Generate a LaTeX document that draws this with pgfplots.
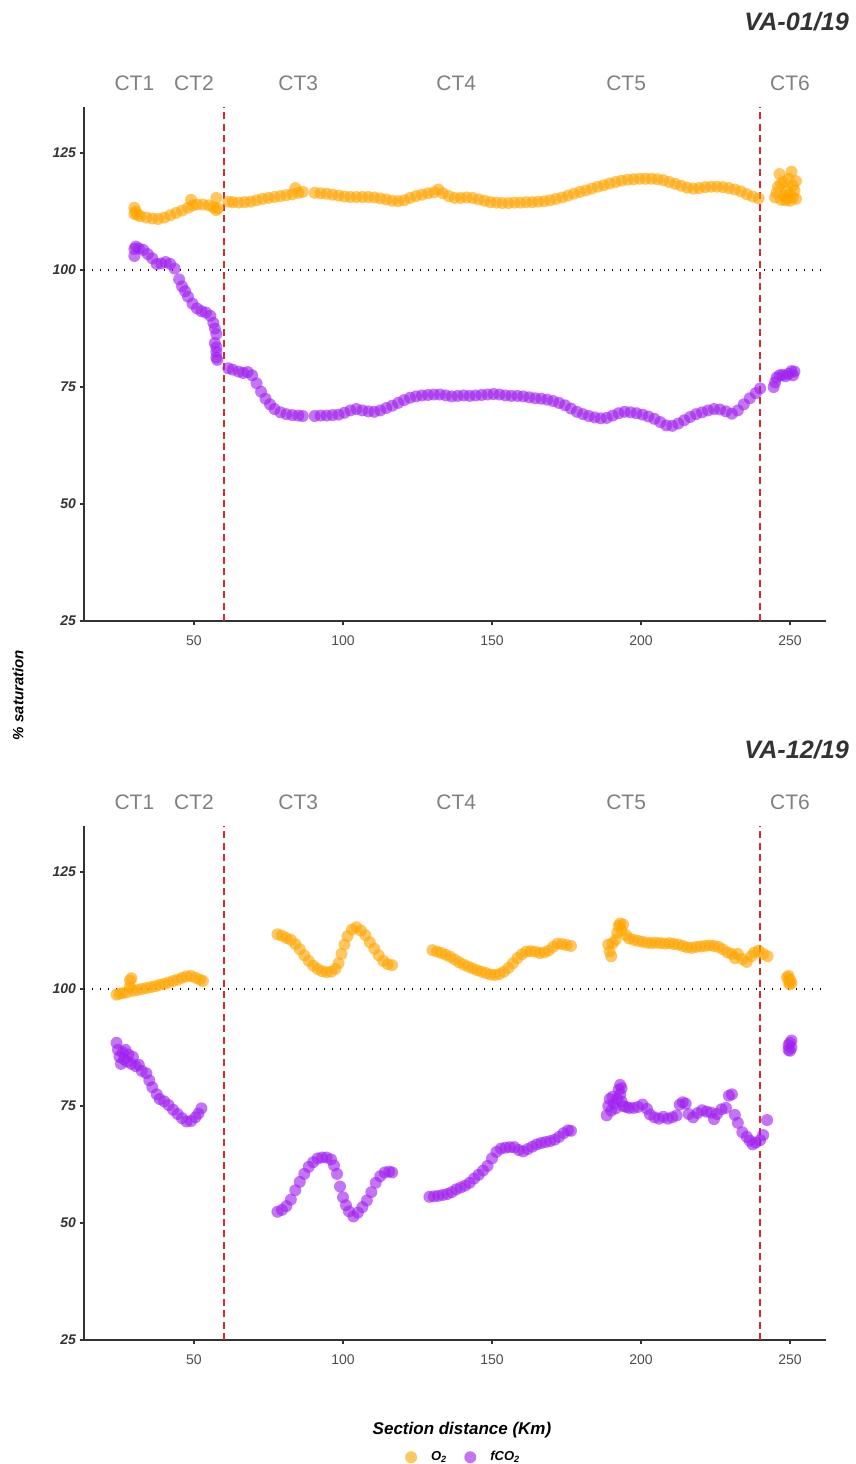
\documentclass[border=0pt]{standalone}
\usepackage{pgfplots}
\pgfplotsset{compat=1.18}
\usepackage{fontspec}
\setmainfont{Liberation Sans}
\definecolor{oo}{HTML}{FFA500}
\definecolor{pp}{HTML}{A020F0}
\definecolor{axgray}{HTML}{333333}
\definecolor{tkgray}{HTML}{4D4D4D}
\definecolor{ctgray}{HTML}{808080}
\definecolor{redl}{HTML}{D92B2B}

% ---------------- Panel 1 (VA-01/19) ----------------
\pgfplotstableread{
x y
30 112.0
30 113.3
30.5 112.5
31 111.8
32 111.5
34 111.2
36 111.0
38 110.9
40 111.2
42 111.7
44 112.2
46 112.7
48 113.3
49.5 113.8
49 115.0
51 114.0
53 114.0
55 113.8
56.5 113.4
57.5 112.8
57.5 115.4
58 113.2
61.5 114.6
63 114.5
65 114.4
67 114.5
69 114.6
71 114.9
73 115.2
75 115.4
77 115.6
79 115.8
81 116.0
83 116.2
84 117.5
85 116.5
86.5 116.7
90.5 116.5
92.5 116.4
94.5 116.3
96.5 116.1
98.5 115.9
100.5 115.7
102.5 115.6
104.5 115.6
106.5 115.6
108.5 115.6
110.5 115.5
112.5 115.3
114.5 115.1
116.5 114.8
118.5 114.7
120.5 114.9
122.5 115.4
124.5 115.8
126.5 116.1
128.5 116.4
130.5 116.6
132 117.2
133.5 116.4
135.5 115.8
137.5 115.4
139.5 115.4
141.5 115.5
143.5 115.4
145.5 115.1
147.5 114.8
149.5 114.5
151.5 114.4
153.5 114.3
155.5 114.3
157.5 114.4
159.5 114.4
161.5 114.5
163.5 114.5
165.5 114.6
167.5 114.7
169.5 114.9
171.5 115.2
173.5 115.5
175.5 115.9
177.5 116.3
179.5 116.7
181.5 117.0
183.5 117.4
185.5 117.8
187.5 118.1
189.5 118.5
191.5 118.8
193.5 119.1
195.5 119.3
197.5 119.4
199.5 119.5
201.5 119.5
203.5 119.5
205.5 119.4
207.5 119.2
209.5 118.8
211.5 118.4
213.5 118.0
215.5 117.6
217.5 117.4
219.5 117.5
221.5 117.7
223.5 117.8
225.5 117.8
227.5 117.7
229.5 117.5
231.5 117.2
233.5 116.8
235.5 116.2
237.5 115.7
239.5 115.3
245 115.5
245.5 116.5
246 117.8
246.5 120.5
247 118.5
247 115.0
248 116.0
248 118.8
249 117.0
249 115.3
249.5 119.5
250 116.2
250.5 121.0
251 118.0
251 115.5
251.5 117.0
252 115.2
252 119.0
248.5 114.9
250 114.8
}\oTop

\pgfplotstableread{
x y
30 103.0
30 104.5
30.5 105.0
31.5 104.6
33 104.3
34.5 103.4
36 102.5
37.5 101.3
39 101.4
40.5 101.7
42 101.3
43.5 100.3
45 98.0
46 96.5
47 95.5
48 94.3
49.5 92.8
51 91.8
52.5 91.2
54 90.9
55.5 90.2
56.5 88.7
57 87.5
57.5 86.3
57 84.4
57.5 83.5
57.5 82.5
57.5 81.3
57.8 80.8
61.5 79.0
63 78.7
65 78.3
66.5 78.0
68 78.2
69.5 77.5
71 75.8
72.5 74.0
74 72.5
75.5 71.3
77 70.3
79 69.6
81 69.2
83 69.0
85 68.9
86.5 68.8
90.5 68.8
92.5 68.9
94.5 68.9
96.5 69.0
98.5 69.1
100.5 69.5
102.5 70.0
104.5 70.3
106.5 70.0
108.5 69.8
110.5 69.7
112.5 70.0
114.5 70.5
116.5 71.0
118.5 71.6
120.5 72.2
122.5 72.7
124.5 73.0
126.5 73.2
128.5 73.3
130.5 73.4
132.5 73.4
134.5 73.2
136.5 73.0
138.5 73.1
140.5 73.2
142.5 73.1
144.5 73.2
146.5 73.3
148.5 73.4
150.5 73.5
152.5 73.4
154.5 73.2
156.5 73.1
158.5 73.1
160.5 73.0
162.5 72.8
164.5 72.6
166.5 72.5
168.5 72.3
170.5 72.0
172.5 71.6
174.5 71.1
176.5 70.4
178.5 69.7
180.5 69.2
182.5 68.8
184.5 68.5
186.5 68.3
188.5 68.4
190.5 68.9
192.5 69.4
194.5 69.7
196.5 69.6
198.5 69.4
200.5 69.1
202.5 68.7
204.5 68.2
206.5 67.5
208.5 66.8
210.5 66.7
212.5 67.2
214.5 67.9
216.5 68.6
218.5 69.2
220.5 69.6
222.5 70.0
224.5 70.3
226.5 70.2
228.5 69.8
230.5 69.3
232.5 70.0
234.5 71.3
236.5 72.6
238.5 73.7
240 74.7
244.5 75.0
245 76.0
245.5 77.0
246.5 77.5
247.5 77.6
248.5 77.3
249.5 77.8
250.5 78.4
251.5 78.3
251 77.5
}\cTop

% ---------------- Panel 2 (VA-12/19) ----------------
\pgfplotstableread{
x y
24 98.8
25 99.0
26 99.1
27.5 99.3
28.5 100.5
28.5 101.8
29 102.3
29.5 99.6
31 99.8
32.5 100.0
34 100.2
35.5 100.4
37 100.6
38.5 100.9
40 101.1
41.5 101.4
43 101.7
44.5 102.0
46 102.4
47.5 102.7
49 102.8
50.5 102.4
52 102.0
53 101.7
78 111.7
79.5 111.4
81 110.9
82.5 110.5
84 109.6
85.5 108.5
87 107.2
88.5 106.0
90 105.0
91.5 104.3
93 103.8
94.5 103.6
96 103.7
97.5 104.3
98.5 105.5
99.5 107.5
100.5 109.5
101.5 111.3
103 112.7
104.5 113.2
106 112.5
107.5 111.5
109 110.0
110.5 108.6
112 107.2
113.5 106.0
115 105.3
116.5 105.1
130 108.3
131.5 108.0
133 107.7
134.5 107.3
136 106.9
137.5 106.3
139 105.7
140.5 105.2
142 104.8
143.5 104.4
145 104.0
146.5 103.7
148 103.4
149.5 103.1
151 103.0
152.5 103.2
154 103.7
155.5 104.5
157 105.5
158.5 106.6
160 107.4
161.5 108.0
163 108.1
164.5 108.0
166 107.7
167.5 107.8
169 108.2
170.5 109.0
172 109.7
173.5 109.6
175 109.4
176.5 109.2
189 109.5
189.5 108.0
190 107.0
190.5 109.8
191.5 110.5
192 112.0
192.5 113.5
193 114.0
193.5 112.5
194 113.8
195 111.5
196 110.8
197.5 110.5
199 110.3
200.5 110.1
202 109.9
203.5 109.8
205 109.9
206.5 109.8
208 109.7
209.5 109.8
211 109.6
212.5 109.5
214 109.2
215.5 108.9
217 108.8
218.5 109.0
220 109.1
221.5 109.2
223 109.3
224.5 109.2
226 109.0
227.5 108.5
229 107.8
230.5 107.5
231.5 106.6
232.5 107.5
234 106.4
235.5 105.8
237 107.0
238 107.8
239.5 108.2
241 107.5
242.5 107.0
249 102.5
249.5 101.5
250 102.0
250.5 101.3
249.5 102.8
250 101.0
}\oBot

\pgfplotstableread{
x y
24 88.5
24.5 87.0
25 85.5
25.5 84.0
26 86.5
26.5 85.0
27 87.0
27.5 84.5
28 86.0
29 84.0
29.5 85.5
30.5 83.5
31.5 83.8
32.5 82.5
34 82.0
35 80.5
36 79.0
37.5 77.5
38.5 76.5
40 76.0
41.5 75.2
43 74.2
44.5 73.3
46 72.4
47.5 71.7
49 71.8
50.5 72.6
51.5 73.4
52.5 74.5
78 52.4
79.5 52.8
81 53.6
82.5 55.0
84 57.0
85.5 58.8
87 60.5
88.5 62.0
90 63.0
91.5 63.8
93 64.0
94.5 64.0
96 63.6
97 62.3
98 60.5
99 57.8
100 55.5
101 53.8
102 52.5
103.5 51.4
105 52.2
106.5 53.4
108 54.8
109.5 56.6
111 58.6
112.5 60.0
114 60.8
115.5 61.0
116.5 60.8
129 55.6
130.5 55.7
132 55.8
133.5 56.0
135 56.2
136.5 56.6
138 57.2
139.5 57.6
141 58.0
142.5 58.6
144 59.5
145.5 60.3
147 61.2
148.5 62.2
150 63.8
151.5 65.2
153 65.9
154.5 66.1
156 66.2
157.5 66.2
159 65.6
160.5 65.3
162 65.8
163.5 66.3
165 66.8
166.5 67.1
168 67.3
169.5 67.5
171 67.8
172.5 68.4
174 69.2
175.5 69.8
176.5 69.7
188.5 73.0
189 75.0
189.5 76.5
190 74.0
190.5 77.0
191 75.5
191.5 74.5
192 76.5
192.5 78.5
193 79.5
193 77.5
193.5 76.0
193.5 78.8
194 75.0
195 74.8
196 74.6
197.5 74.6
199 74.8
200.5 75.3
202 74.4
203 73.2
204.5 72.6
206 72.3
207.5 72.7
209 72.3
210.5 72.6
212 73.0
213 75.3
214 75.8
215 75.5
216 73.3
217.5 72.6
219 73.5
220.5 74.1
222 73.8
223.5 73.6
224.5 72.2
225.5 73.3
227 74.3
228.5 74.6
229.5 77.2
230.5 77.5
231.5 73.1
232.5 71.4
234 69.4
235.5 68.4
236.5 67.6
237.5 66.8
238.5 67.2
240 67.7
241 68.8
242.3 72.0
249.5 87.0
250 88.5
250.5 89.0
249.5 88.0
250 86.8
250.5 87.5
}\cBot

\pgfplotsset{
  panel/.style={
    scale only axis, width=371pt, height=257pt,
    xmin=13.09, xmax=262.08, ymin=25, ymax=134.83,
    axis x line*=bottom, axis y line*=left,
    axis line style={axgray, line width=0.7pt},
    xtick={50,100,150,200,250}, ytick={25,50,75,100,125},
    tick style={axgray, line width=0.6pt},
    tick align=outside, major tick length=2.2pt,
    xticklabel style={font=\fontsize{7}{8}\selectfont, text=tkgray, yshift=-1.5pt},
    yticklabel style={font=\fontsize{7}{8}\selectfont\bfseries\itshape, text=axgray, inner xsep=1.6pt},
    /pgf/number format/assume math mode=true,
    clip=false,
  },
  omark/.style={oo, only marks, mark=*, mark size=3pt, mark options={draw=oo, draw opacity=0, fill=oo, fill opacity=0.62}},
  pmark/.style={pp, only marks, mark=*, mark size=3pt, mark options={draw=pp, draw opacity=0, fill=pp, fill opacity=0.62}},
}
\tikzset{ctlab/.style={anchor=base, font=\fontsize{10.5}{12}\selectfont, text=ctgray}}

\begin{document}
\begin{tikzpicture}
\path[use as bounding box] (0,0) rectangle (428pt,-732pt);

% Panel 1
\begin{axis}[panel, at={(42pt,-53.5pt)}, anchor=north west]
\addplot[black, line width=0.7pt, dash pattern=on 0.7pt off 3.3pt] coordinates {(13.09,100) (262.08,100)};
\addplot[redl, line width=0.8pt, dash pattern=on 3.5pt off 2.2pt] coordinates {(60,25) (60,134.83)};
\addplot[redl, line width=0.8pt, dash pattern=on 3.5pt off 2.2pt] coordinates {(240,25) (240,134.83)};
\addplot[omark] table {\oTop};
\addplot[pmark] table {\cTop};
\node[ctlab] at (axis cs:30,138.3) {CT1};
\node[ctlab] at (axis cs:50,138.3) {CT2};
\node[ctlab] at (axis cs:85,138.3) {CT3};
\node[ctlab] at (axis cs:138,138.3) {CT4};
\node[ctlab] at (axis cs:195,138.3) {CT5};
\node[ctlab] at (axis cs:250,138.3) {CT6};
\end{axis}

% Panel 2
\begin{axis}[panel, at={(42pt,-413pt)}, anchor=north west,
  legend style={at={(0.513,-0.228)}, anchor=center, draw=none, fill=none,
    legend columns=2, font=\fontsize{6.5}{7}\selectfont\bfseries\itshape,
    /tikz/every odd column/.append style={column sep=5pt},
    /tikz/every even column/.append style={column sep=6.5pt}},
  legend cell align=left]
\addplot[black, line width=0.7pt, dash pattern=on 0.7pt off 3.3pt, forget plot] coordinates {(13.09,100) (262.08,100)};
\addplot[redl, line width=0.8pt, dash pattern=on 3.5pt off 2.2pt, forget plot] coordinates {(60,25) (60,134.83)};
\addplot[redl, line width=0.8pt, dash pattern=on 3.5pt off 2.2pt, forget plot] coordinates {(240,25) (240,134.83)};
\addplot[omark] table {\oBot};
\addlegendentry{O\textsubscript{2}}
\addplot[pmark] table {\cBot};
\addlegendentry{fCO\textsubscript{2}}
\node[ctlab] at (axis cs:30,138.3) {CT1};
\node[ctlab] at (axis cs:50,138.3) {CT2};
\node[ctlab] at (axis cs:85,138.3) {CT3};
\node[ctlab] at (axis cs:138,138.3) {CT4};
\node[ctlab] at (axis cs:195,138.3) {CT5};
\node[ctlab] at (axis cs:250,138.3) {CT6};
\end{axis}

% Titles and labels
\node[anchor=base east, font=\fontsize{12.6}{14}\selectfont\bfseries\itshape, text=axgray] at (428pt,-15pt) {VA-01/19};
\node[anchor=base east, font=\fontsize{12.6}{14}\selectfont\bfseries\itshape, text=axgray] at (428pt,-379pt) {VA-12/19};
\node[rotate=90, font=\fontsize{7.5}{9}\selectfont\bfseries\itshape] at (9pt,-347.5pt) {\% saturation};
\node[font=\fontsize{8.5}{10}\selectfont\bfseries\itshape] at (231pt,-715pt) {Section distance (Km)};
\end{tikzpicture}
\end{document}
